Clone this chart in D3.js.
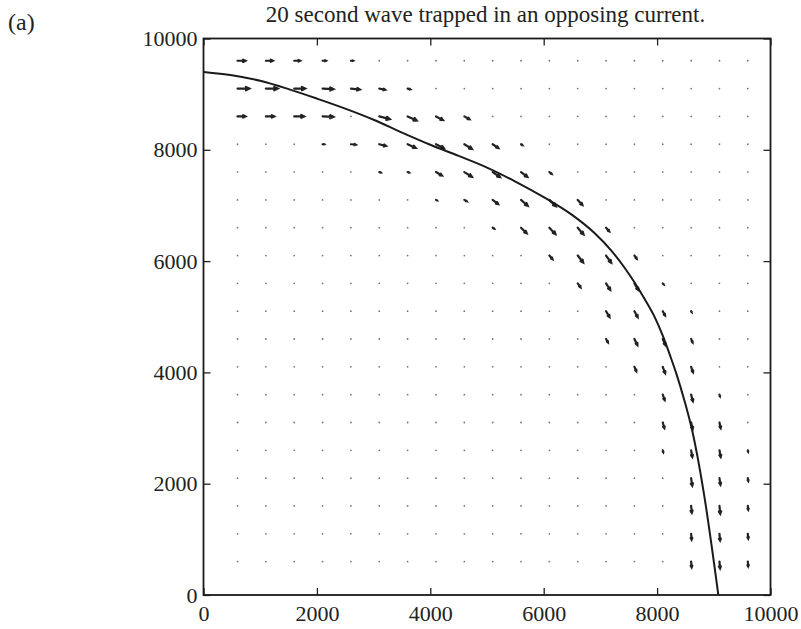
<!DOCTYPE html>
<html>
<head>
<meta charset="utf-8">
<script src="https://cdn.jsdelivr.net/npm/d3@7"></script>
<style>
    body { margin: 0; background: #fff; }
    svg { display: block; font-family: "Liberation Serif", "DejaVu Serif", serif; }
    .tick text { font-size: 22px; fill: #222; }
    .tick line { stroke: #222; stroke-width: 1.3; }
</style>
</head>
<body>
<div id="chart"></div>
<script>
// --- Data ---
const titleText = "20 second wave trapped in an opposing current.";
const panelLabel = "(a)";
const tickValues = [0, 2000, 4000, 6000, 8000, 10000];

// quiver grid (same spacing both ways)
const gridX = [600, 1100, 1600, 2100, 2600, 3100, 3600, 4100, 4600, 5100,
               5600, 6100, 6600, 7100, 7600, 8100, 8600, 9100, 9600];
const gridY = [600, 1100, 1600, 2100, 2600, 3100, 3600, 4100, 4600, 5100,
               5600, 6100, 6600, 7100, 7600, 8100, 8600, 9100, 9600];

// non-zero vectors [x, y, u, v]; every other grid point is ~0
const vectors = [
    [600, 9600, 0.80, 0], [1100, 9600, 0.70, 0], [1600, 9600, 0.60, 0], [2100, 9600, 0.35, 0], [2600, 9600, 0.22, 0],
    [600, 9100, 1.20, 0], [1100, 9100, 1.20, 0], [1600, 9100, 1.10, 0], [2100, 9100, 1.10, -0.05], [2600, 9100, 0.90, -0.10],
    [3100, 9100, 0.60, -0.12], [3600, 9100, 0.28, -0.08],
    [600, 8600, 0.80, 0], [1100, 8600, 0.85, 0], [1600, 8600, 1.00, 0], [2100, 8600, 1.10, -0.05],
    [3100, 8600, 1.06, -0.28], [3600, 8600, 0.91, -0.42], [4100, 8600, 0.70, -0.38], [4600, 8600, 0.52, -0.30],
    [2100, 8100, 0.15, 0], [2600, 8100, 0.50, -0.05], [3100, 8100, 0.68, -0.18], [3600, 8100, 0.82, -0.38],
    [4100, 8100, 0.80, -0.42], [4600, 8100, 0.76, -0.48], [5100, 8100, 0.57, -0.40], [5600, 8100, 0.15, -0.10],
    [3100, 7600, 0.15, -0.05], [3600, 7600, 0.15, -0.05], [4100, 7600, 0.60, -0.35], [4600, 7600, 0.76, -0.48],
    [5100, 7600, 0.74, -0.52], [5600, 7600, 0.63, -0.49], [6100, 7600, 0.23, -0.19],
    [4100, 7100, 0.10, -0.05], [4600, 7100, 0.25, -0.15], [5100, 7100, 0.55, -0.43], [5600, 7100, 0.67, -0.60],
    [6100, 7100, 0.64, -0.64], [6600, 7100, 0.47, -0.52],
    [5100, 6600, 0.15, -0.10], [5600, 6600, 0.57, -0.57], [6100, 6600, 0.61, -0.66], [6600, 6600, 0.58, -0.69],
    [7100, 6600, 0.32, -0.38],
    [6100, 6100, 0.32, -0.38], [6600, 6100, 0.55, -0.71], [7100, 6100, 0.52, -0.74], [7600, 6100, 0.23, -0.33],
    [6600, 5600, 0.29, -0.41], [7100, 5600, 0.42, -0.68], [7600, 5600, 0.40, -0.69], [8100, 5600, 0.10, -0.12],
    [7100, 5100, 0.35, -0.61], [7600, 5100, 0.33, -0.62], [8100, 5100, 0.23, -0.45], [8600, 5100, 0.06, -0.10],
    [7100, 4600, 0.19, -0.35], [7600, 4600, 0.30, -0.63], [8100, 4600, 0.27, -0.64], [8600, 4600, 0.15, -0.37],
    [7600, 4100, 0.19, -0.46], [8100, 4100, 0.24, -0.66], [8600, 4100, 0.19, -0.57],
    [8100, 3600, 0.19, -0.57], [8600, 3600, 0.18, -0.68], [9100, 3600, 0.05, -0.18],
    [8100, 3100, 0.16, -0.58], [8600, 3100, 0.15, -0.68], [9100, 3100, 0.12, -0.59],
    [8100, 2600, 0.05, -0.20], [8600, 2600, 0.12, -0.69], [9100, 2600, 0.12, -0.69], [9600, 2600, 0.03, -0.15],
    [8600, 2100, 0.11, -0.79], [9100, 2100, 0.10, -0.69], [9600, 2100, 0.04, -0.30],
    [8600, 1600, 0.07, -0.70], [9100, 1600, 0.08, -0.80], [9600, 1600, 0.04, -0.40],
    [8600, 1100, 0.05, -0.60], [9100, 1100, 0.06, -0.70], [9600, 1100, 0.04, -0.50],
    [8600, 600, 0.05, -0.60], [9100, 600, 0.06, -0.70], [9600, 600, 0.04, -0.50]
];

// ray path
const rayX = [0, 500, 1000, 1500, 2000, 2500, 3000, 3500, 4000, 4500, 5000, 5500, 6000, 6500,
              6900, 7200, 7420, 7600, 7780, 7960, 8100, 8230, 8345, 8480, 8620, 8815, 9080];
const rayY = [9400, 9340, 9240, 9090, 8920, 8740, 8540, 8310, 8090, 7890, 7680, 7430, 7150, 6830,
              6500, 6180, 5890, 5620, 5320, 4990, 4660, 4300, 3960, 3500, 2950, 1890, 0];

// --- Layout ---
const W = 801, H = 629;
const plot = { left: 203.5, right: 770.5, top: 38.5, bottom: 595 };
const arrowScale = 175; // data units per unit vector

const svg = d3.select("#chart").append("svg")
    .attr("width", W)
    .attr("height", H);

const x = d3.scaleLinear().domain([0, 10000]).range([plot.left, plot.right]);
const y = d3.scaleLinear().domain([0, 10000]).range([plot.bottom, plot.top]);

// --- Quiver ---
const vecKey = new Map(vectors.map(d => [d[0] + "," + d[1], d]));
const zeroPts = [];
gridY.forEach(gy => gridX.forEach(gx => {
    if (!vecKey.has(gx + "," + gy)) zeroPts.push([gx, gy]);
}));

svg.append("g").selectAll("circle")
    .data(zeroPts)
    .enter().append("circle")
    .attr("cx", d => x(d[0]))
    .attr("cy", d => y(d[1]))
    .attr("r", 0.9)
    .attr("fill", "#777");

function arrowPath(d) {
    const x0 = x(d[0]), y0 = y(d[1]);
    const x1 = x(d[0] + d[2] * arrowScale), y1 = y(d[1] + d[3] * arrowScale);
    const dx = x1 - x0, dy = y1 - y0;
    const len = Math.hypot(dx, dy);
    if (len < 0.01) return "";
    const a = Math.atan2(dy, dx), h = len * 0.33, s = 0.45;
    const hx1 = x1 - h * Math.cos(a - s), hy1 = y1 - h * Math.sin(a - s);
    const hx2 = x1 - h * Math.cos(a + s), hy2 = y1 - h * Math.sin(a + s);
    return `M${x0},${y0}L${x1},${y1}M${hx1},${hy1}L${x1},${y1}L${hx2},${hy2}`;
}

svg.append("g").selectAll("path")
    .data(vectors)
    .enter().append("path")
    .attr("d", arrowPath)
    .attr("fill", "none")
    .attr("stroke", "#222")
    .attr("stroke-width", 2.2)
    .attr("stroke-linecap", "round");

// --- Ray curve ---
const line = d3.line()
    .x(i => x(rayX[i]))
    .y(i => y(rayY[i]))
    .curve(d3.curveMonotoneX);

svg.append("path")
    .attr("d", line(d3.range(rayX.length)))
    .attr("fill", "none")
    .attr("stroke", "#1a1a1a")
    .attr("stroke-width", 2);

// --- Axes (inward ticks on all sides) ---
const tickLen = 7;
const noFont = g => g.attr("font-family", null).attr("font-size", null);

svg.append("g")
    .attr("transform", `translate(0,${plot.bottom})`)
    .call(d3.axisBottom(x).tickValues(tickValues).tickSize(-tickLen).tickPadding(10).tickFormat(d3.format("d")))
    .call(noFont)
    .call(g => g.select(".domain").remove());

svg.append("g")
    .attr("transform", `translate(${plot.left},0)`)
    .call(d3.axisLeft(y).tickValues(tickValues).tickSize(-tickLen).tickPadding(6).tickFormat(d3.format("d")))
    .call(noFont)
    .call(g => g.select(".domain").remove());

svg.append("g")
    .attr("transform", `translate(0,${plot.top})`)
    .call(d3.axisTop(x).tickValues(tickValues).tickSize(-tickLen).tickFormat(""))
    .call(g => g.select(".domain").remove());

svg.append("g")
    .attr("transform", `translate(${plot.right},0)`)
    .call(d3.axisRight(y).tickValues(tickValues).tickSize(-tickLen).tickFormat(""))
    .call(g => g.select(".domain").remove());

svg.append("rect")
    .attr("x", plot.left)
    .attr("y", plot.top)
    .attr("width", plot.right - plot.left)
    .attr("height", plot.bottom - plot.top)
    .attr("fill", "none")
    .attr("stroke", "#1a1a1a")
    .attr("stroke-width", 1.8);

// --- Titles ---
svg.append("text")
    .attr("x", 485.5)
    .attr("y", 22)
    .attr("text-anchor", "middle")
    .attr("font-size", 23)
    .attr("fill", "#222")
    .text(titleText);

svg.append("text")
    .attr("x", 8)
    .attr("y", 30)
    .attr("font-size", 24)
    .attr("fill", "#222")
    .text(panelLabel);
</script>
</body>
</html>
